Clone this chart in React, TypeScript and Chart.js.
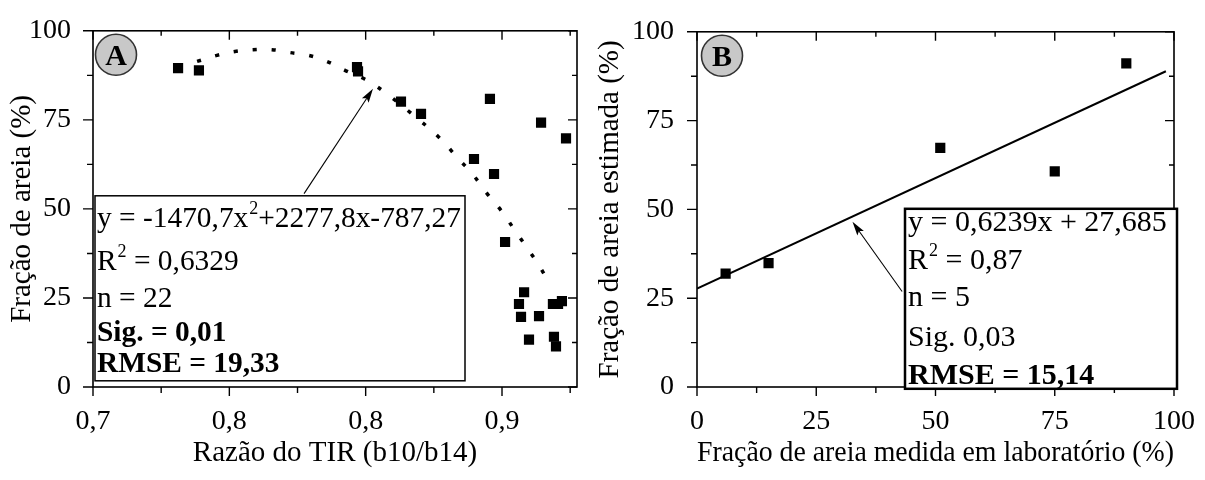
import React, { useEffect, useRef } from "react";
import { Chart, registerables } from "chart.js";
Chart.register(...registerables);

const FONT = "'Liberation Serif', 'Times New Roman', Times, serif";

// ---------- Panel A data ----------
const aPointsX = [0.7416, 0.7518, 0.8291, 0.8296, 0.8506, 0.8604, 0.8863, 0.8941, 0.8961, 0.9015, 0.9108,
  0.9083, 0.9093, 0.9132, 0.9181, 0.9191, 0.9313, 0.9249, 0.9293, 0.9254, 0.9264, 0.9274];
const aPointsY = [89.5, 88.9, 89.8, 88.6, 80.1, 76.7, 64.0, 80.9, 59.8, 40.7, 26.6,
  23.3, 19.7, 13.3, 19.9, 74.2, 69.8, 23.3, 24.1, 14.1, 11.4, 23.3];
const aCurveX = [0.7509, 0.7606, 0.7694, 0.7782, 0.7875, 0.7963, 0.8056, 0.8144, 0.8232, 0.833, 0.8418,
  0.8599, 0.8697, 0.878, 0.8858, 0.8927, 0.8995, 0.9059, 0.9122, 0.9181, 0.9235];
const aCurveY = [91.4, 93.1, 94.2, 94.7, 94.7, 93.9, 93.1, 91.4, 88.9, 86.4, 83.1,
  74.8, 69.8, 64.5, 59.6, 54.3, 49.6, 44.3, 39.1, 34.1, 28.8];
const aXMin = 0.7;
const aXMax = 0.93667;
const aXTicks = [0.7, 0.76667, 0.83333, 0.9];
const aXTickLabels = ["0,7", "0,8", "0,8", "0,9"];
const aArrowFrom = [0.8032, 54.3];
const aArrowTo = [0.8369, 83.7];
const aStats = [
  [{ t: "y = -1470,7x" }, { t: "2", sup: true }, { t: "+2277,8x-787,27" }],
  [{ t: "R" }, { t: "2", sup: true }, { t: " = 0,6329" }],
  [{ t: "n = 22" }],
  [{ t: "Sig. = 0,01", bold: true }],
  [{ t: "RMSE = 19,33", bold: true }],
];

// ---------- Panel B data ----------
const bPointsX = [6, 15, 51, 75, 90];
const bPointsY = [31.9, 34.9, 67.3, 60.7, 91.1];
const bLineX = [0, 98.3];
const bLineY = [27.7, 88.9];
const bXTicks = [0, 25, 50, 75, 100];
const bXTickLabels = ["0", "25", "50", "75", "100"];
const bArrowFrom = [43.0, 26.9];
const bArrowTo = [32.6, 46.5];
const bStats = [
  [{ t: "y = 0,6239x + 27,685" }],
  [{ t: "R" }, { t: "2", sup: true }, { t: " = 0,87" }],
  [{ t: "n = 5" }],
  [{ t: "Sig. 0,03" }],
  [{ t: "RMSE = 15,14", bold: true }],
];

// ---------- shared ----------
const yTicks = [0, 25, 50, 75, 100];
const yTickLabels = ["0", "25", "50", "75", "100"];

type Seg = { t: string; sup?: boolean; bold?: boolean };

function framePlugin(xMajor: number[], yMajor: number[]) {
  return {
    id: "frameTicks",
    afterDatasetsDraw(chart: any) {
      const { ctx, chartArea: ca, scales } = chart;
      const x = scales.x, y = scales.y;
      ctx.save();
      ctx.strokeStyle = "#000";
      ctx.lineWidth = 1.6;
      ctx.strokeRect(ca.left, ca.top, ca.right - ca.left, ca.bottom - ca.top);
      ctx.lineWidth = 1.4;
      const xs: [number, boolean][] = [];
      const xStep = xMajor[1] - xMajor[0];
      xMajor.forEach((v) => {
        xs.push([v, true]);
        if (v + xStep / 2 <= x.max + 1e-9) xs.push([v + xStep / 2, false]);
      });
      const ys: [number, boolean][] = [];
      const yStep = yMajor[1] - yMajor[0];
      yMajor.forEach((v) => {
        ys.push([v, true]);
        if (v + yStep / 2 <= y.max + 1e-9) ys.push([v + yStep / 2, false]);
      });
      ctx.beginPath();
      xs.forEach(([v, major]) => {
        const px = x.getPixelForValue(v);
        ctx.moveTo(px, ca.bottom);
        ctx.lineTo(px, ca.bottom + (major ? 9 : 6));
        ctx.moveTo(px, ca.top);
        ctx.lineTo(px, ca.top + (major ? 9 : 5));
      });
      ys.forEach(([v, major]) => {
        const py = y.getPixelForValue(v);
        ctx.moveTo(ca.left, py);
        ctx.lineTo(ca.left - (major ? 10 : 6), py);
        ctx.moveTo(ca.right, py);
        ctx.lineTo(ca.right - (major ? 9 : 5), py);
      });
      ctx.stroke();
      ctx.restore();
    },
  };
}

function drawArrow(ctx: any, x1: number, y1: number, x2: number, y2: number) {
  const ang = Math.atan2(y2 - y1, x2 - x1);
  const len = 14, hw = 4;
  ctx.beginPath();
  ctx.moveTo(x1, y1);
  ctx.lineTo(x2 - Math.cos(ang) * len * 0.8, y2 - Math.sin(ang) * len * 0.8);
  ctx.lineWidth = 1.1;
  ctx.strokeStyle = "#000";
  ctx.stroke();
  ctx.beginPath();
  ctx.moveTo(x2, y2);
  ctx.lineTo(x2 - Math.cos(ang) * len + Math.sin(ang) * hw, y2 - Math.sin(ang) * len - Math.cos(ang) * hw);
  ctx.lineTo(x2 - Math.cos(ang) * len * 0.8, y2 - Math.sin(ang) * len * 0.8);
  ctx.lineTo(x2 - Math.cos(ang) * len - Math.sin(ang) * hw, y2 - Math.sin(ang) * len + Math.cos(ang) * hw);
  ctx.closePath();
  ctx.fillStyle = "#000";
  ctx.fill();
}

function annotPlugin(cfg: {
  letter: string;
  circle: [number, number];
  box: [number, number, number, number];
  boxLine: number;
  textX: number;
  textSize: number;
  baselines: number[];
  lines: Seg[][];
  arrowFrom: number[];
  arrowTo: number[];
}) {
  return {
    id: "annot",
    afterDatasetsDraw(chart: any) {
      const { ctx, chartArea: ca, scales } = chart;
      const x = scales.x, y = scales.y;
      ctx.save();
      // circle label
      const cx = ca.left + cfg.circle[0], cy = ca.top + cfg.circle[1];
      ctx.beginPath();
      ctx.arc(cx, cy, 20.5, 0, Math.PI * 2);
      ctx.fillStyle = "#c8c8c8";
      ctx.fill();
      ctx.lineWidth = 1.6;
      ctx.strokeStyle = "#333";
      ctx.stroke();
      ctx.fillStyle = "#000";
      ctx.font = `bold 30px ${FONT}`;
      ctx.textAlign = "center";
      ctx.textBaseline = "alphabetic";
      ctx.fillText(cfg.letter, cx, cy + 10.5);
      // box
      const [bx, by, bw, bh] = cfg.box;
      ctx.fillStyle = "#fff";
      ctx.fillRect(ca.left + bx, ca.top + by, bw, bh);
      ctx.lineWidth = cfg.boxLine;
      ctx.strokeStyle = "#000";
      ctx.strokeRect(ca.left + bx, ca.top + by, bw, bh);
      // text
      ctx.textAlign = "left";
      ctx.fillStyle = "#000";
      cfg.lines.forEach((segs, i) => {
        let tx = ca.left + cfg.textX;
        const ty = ca.top + cfg.baselines[i];
        segs.forEach((s) => {
          if (s.sup) {
            ctx.font = `18px ${FONT}`;
            ctx.fillText(s.t, tx + 1, ty - 13);
            tx += ctx.measureText(s.t).width + 1;
          } else {
            ctx.font = `${s.bold ? "bold " : ""}${cfg.textSize}px ${FONT}`;
            ctx.fillText(s.t, tx, ty);
            tx += ctx.measureText(s.t).width;
          }
        });
      });
      // arrow
      drawArrow(
        ctx,
        x.getPixelForValue(cfg.arrowFrom[0]),
        y.getPixelForValue(cfg.arrowFrom[1]),
        x.getPixelForValue(cfg.arrowTo[0]),
        y.getPixelForValue(cfg.arrowTo[1])
      );
      ctx.restore();
    },
  };
}

function makeScales(opts: {
  xMin: number; xMax: number; xTicks: number[]; xLabels: string[]; xTitle: string; yTitle: string;
  yWidth: number; yTickPad: number; yTitlePad: number; xTitlePad: number;
}) {
  const tickFont = { family: FONT, size: 28, lineHeight: 1.2 };
  const titleFont = { family: FONT, size: 29, lineHeight: 1.2 };
  return {
    x: {
      type: "linear",
      min: opts.xMin,
      max: opts.xMax,
      afterBuildTicks: (axis: any) => {
        axis.ticks = opts.xTicks.map((v) => ({ value: v }));
      },
      afterFit: (s: any) => { s.height = 93; },
      grid: { display: false },
      border: { display: false },
      ticks: {
        autoSkip: false,
        maxRotation: 0,
        color: "#000",
        font: tickFont,
        padding: 10,
        callback: (v: number) => {
          const i = opts.xTicks.findIndex((t) => Math.abs(t - v) < 1e-6);
          return i >= 0 ? opts.xLabels[i] : "";
        },
      },
      title: { display: true, text: opts.xTitle, color: "#000", font: titleFont, padding: { top: 0, bottom: opts.xTitlePad } },
    },
    y: {
      type: "linear",
      min: 0,
      max: 100,
      afterBuildTicks: (axis: any) => {
        axis.ticks = yTicks.map((v) => ({ value: v }));
      },
      afterFit: (s: any) => { s.width = opts.yWidth; },
      grid: { display: false },
      border: { display: false },
      ticks: {
        autoSkip: false,
        color: "#000",
        font: tickFont,
        padding: opts.yTickPad,
        callback: (v: number) => {
          const i = yTicks.indexOf(v);
          return i >= 0 ? yTickLabels[i] : "";
        },
      },
      title: { display: true, text: opts.yTitle, color: "#000", font: titleFont, padding: { top: opts.yTitlePad, bottom: 0 } },
    },
  };
}

function PanelA() {
  const ref = useRef<HTMLCanvasElement>(null);
  useEffect(() => {
    const chart = new Chart(ref.current!, {
      type: "scatter",
      data: {
        datasets: [
          {
            data: aCurveX.map((x, i) => ({ x, y: aCurveY[i] })),
            showLine: true,
            borderColor: "#000",
            borderWidth: 3.5,
            borderDash: [4, 15],
            pointRadius: 0,
            tension: 0.4,
            fill: false,
          } as any,
          {
            data: aPointsX.map((x, i) => ({ x, y: aPointsY[i] })),
            pointStyle: "rect",
            pointRadius: 7.2,
            backgroundColor: "#000",
            borderColor: "#000",
            borderWidth: 0,
          },
        ],
      },
      options: {
        animation: false,
        responsive: false,
        devicePixelRatio: 1,
        layout: { padding: { top: 26, right: 13, left: 0, bottom: 0 } },
        plugins: { legend: { display: false }, tooltip: { enabled: false } },
        scales: makeScales({
          xMin: aXMin, xMax: aXMax, xTicks: aXTicks, xLabels: aXTickLabels,
          xTitle: "Razão do TIR (b10/b14)", yTitle: "Fração de areia (%)",
          yWidth: 93, yTickPad: 14, yTitlePad: 5, xTitlePad: 9,
        }) as any,
      },
      plugins: [
        framePlugin(aXTicks, yTicks),
        annotPlugin({
          letter: "A",
          circle: [23, 24],
          box: [2, 165, 370, 185],
          boxLine: 1.5,
          textX: 4,
          textSize: 29.4,
          baselines: [196, 239, 276, 310, 341],
          lines: aStats as Seg[][],
          arrowFrom: aArrowFrom,
          arrowTo: aArrowTo,
        }),
      ],
    });
    return () => chart.destroy();
  }, []);
  return <canvas ref={ref} width={590} height={480} style={{ position: "absolute", left: 0, top: 0, width: 590, height: 480 }} />;
}

function PanelB() {
  const ref = useRef<HTMLCanvasElement>(null);
  useEffect(() => {
    const chart = new Chart(ref.current!, {
      type: "scatter",
      data: {
        datasets: [
          {
            data: bLineX.map((x, i) => ({ x, y: bLineY[i] })),
            showLine: true,
            borderColor: "#000",
            borderWidth: 2,
            pointRadius: 0,
            fill: false,
          } as any,
          {
            data: bPointsX.map((x, i) => ({ x, y: bPointsY[i] })),
            pointStyle: "rect",
            pointRadius: 7.2,
            backgroundColor: "#000",
            borderColor: "#000",
            borderWidth: 0,
          },
        ],
      },
      options: {
        animation: false,
        responsive: false,
        devicePixelRatio: 1,
        layout: { padding: { top: 26, right: 24, left: 0, bottom: 0 } },
        plugins: { legend: { display: false }, tooltip: { enabled: false } },
        scales: makeScales({
          xMin: 0, xMax: 100, xTicks: bXTicks, xLabels: bXTickLabels,
          xTitle: "Fração de areia medida em laboratório (%)", yTitle: "Fração de areia estimada (%)",
          yWidth: 107, yTickPad: 15, yTitlePad: 3, xTitlePad: 9,
        }) as any,
      },
      plugins: [
        framePlugin(bXTicks, yTicks),
        annotPlugin({
          letter: "B",
          circle: [25, 24],
          box: [208, 177, 272, 180],
          boxLine: 2.5,
          textX: 211,
          textSize: 30,
          baselines: [199, 237, 274, 314, 352],
          lines: bStats as Seg[][],
          arrowFrom: bArrowFrom,
          arrowTo: bArrowTo,
        }),
      ],
    });
    return () => chart.destroy();
  }, []);
  return <canvas ref={ref} width={615} height={480} style={{ position: "absolute", left: 590, top: 0, width: 615, height: 480 }} />;
}

export default function App() {
  return (
    <div style={{ position: "absolute", left: 0, top: 0, width: 1205, height: 480, background: "#fff", overflow: "hidden" }}>
      <PanelA />
      <PanelB />
    </div>
  );
}
